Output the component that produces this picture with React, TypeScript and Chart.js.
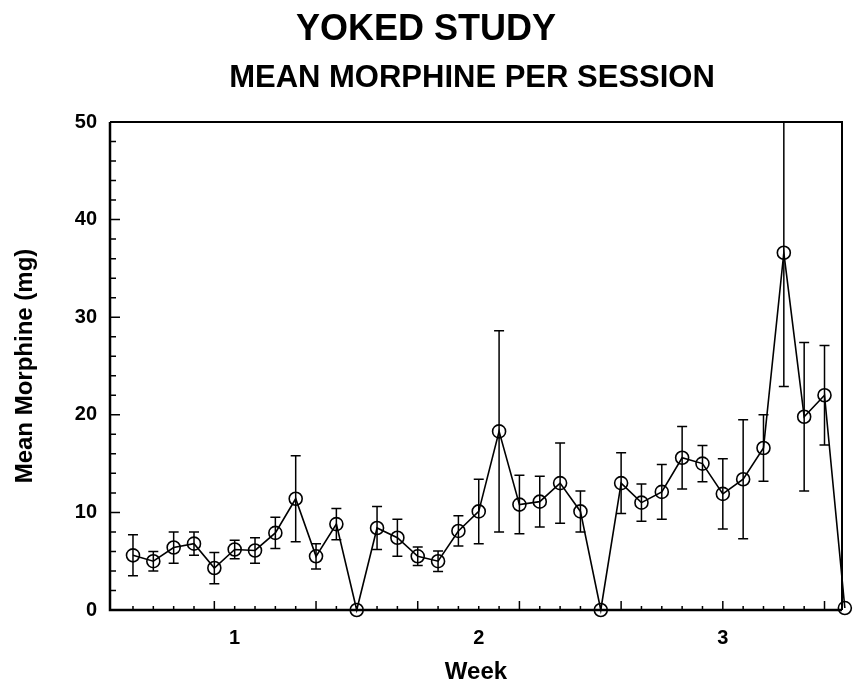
import React, { useEffect, useRef } from "react";
import { Chart, registerables } from "chart.js";

Chart.register(...registerables);

// ---- data ----
const sessions = [
  1, 2, 3, 4, 5, 6, 7, 8, 9, 10, 11, 12,
  13, 14, 15, 16, 17, 18, 19, 20, 21, 22, 23, 24,
  25, 26, 27, 28, 29, 30, 31, 32, 33, 34, 35, 36,
];
const meanMorphine = [
  5.6, 5.0, 6.4, 6.8, 4.3, 6.2, 6.1, 7.9, 11.4, 5.5, 8.8, 0,
  8.4, 7.4, 5.5, 5.0, 8.1, 10.1, 18.3, 10.8, 11.1, 13.0, 10.1, 0,
  13.0, 11.0, 12.1, 15.6, 15.0, 11.9, 13.4, 16.6, 36.6, 19.8, 22.0, 0.2,
];
const semMorphine = [
  2.1, 1.0, 1.6, 1.2, 1.6, 0.95, 1.3, 1.6, 4.4, 1.3, 1.6, 0,
  2.2, 1.9, 0.95, 1.05, 1.55, 3.3, 10.3, 3.0, 2.6, 4.1, 2.1, 0,
  3.1, 1.9, 2.8, 3.2, 1.85, 3.6, 6.1, 3.4, 13.7, 7.6, 5.1, 0,
];
const weekTickValues = [6, 18, 30];
const weekTickLabels = ["1", "2", "3"];
const yTickValues = [0, 10, 20, 30, 40, 50];
const titleText = "YOKED STUDY";
const subtitleText = "MEAN MORPHINE PER SESSION";
const xTitle = "Week";
const yTitle = "Mean Morphine (mg)";

const FONT = "'Liberation Sans', Arial, Helvetica, sans-serif";

const errorBarPlugin = {
  id: "errorBars",
  beforeDatasetsDraw(chart: any) {
    const { ctx, chartArea, scales } = chart;
    const x = scales.x;
    const y = scales.y;
    ctx.save();
    ctx.beginPath();
    ctx.rect(chartArea.left, chartArea.top - 1, chartArea.right - chartArea.left, chartArea.bottom - chartArea.top + 1);
    ctx.clip();
    ctx.strokeStyle = "#000";
    ctx.lineWidth = 1.5;
    sessions.forEach((s, i) => {
      const e = semMorphine[i];
      if (!e) return;
      const px = x.getPixelForValue(s);
      const top = y.getPixelForValue(meanMorphine[i] + e);
      const bot = y.getPixelForValue(meanMorphine[i] - e);
      ctx.beginPath();
      ctx.moveTo(px, top);
      ctx.lineTo(px, bot);
      ctx.moveTo(px - 5, top);
      ctx.lineTo(px + 5, top);
      ctx.moveTo(px - 5, bot);
      ctx.lineTo(px + 5, bot);
      ctx.stroke();
    });
    ctx.restore();
  },
};

const framePlugin = {
  id: "frame",
  afterDraw(chart: any) {
    const { ctx, chartArea, scales } = chart;
    const x = scales.x;
    const y = scales.y;
    const { left, right, top, bottom } = chartArea;
    ctx.save();
    ctx.strokeStyle = "#000";
    ctx.lineWidth = 2;
    ctx.beginPath();
    ctx.moveTo(left, top);
    ctx.lineTo(right, top);
    ctx.lineTo(right, bottom);
    ctx.stroke();
    ctx.lineWidth = 2.5;
    ctx.beginPath();
    ctx.moveTo(left, top);
    ctx.lineTo(left, bottom);
    ctx.lineTo(right, bottom);
    ctx.stroke();
    ctx.lineWidth = 1.5;
    ctx.beginPath();
    for (let v = 2; v < 50; v += 2) {
      const py = y.getPixelForValue(v);
      const len = v % 10 === 0 ? 10 : 6;
      ctx.moveTo(left, py);
      ctx.lineTo(left + len, py);
    }
    sessions.forEach((s) => {
      const px = x.getPixelForValue(s);
      if (px > right - 1) return;
      const len = s % 5 === 0 ? 9 : 4;
      ctx.moveTo(px, bottom);
      ctx.lineTo(px, bottom - len);
    });
    ctx.stroke();
    ctx.restore();
  },
};

const titlesPlugin = {
  id: "titles",
  afterDraw(chart: any) {
    const { ctx } = chart;
    ctx.save();
    ctx.fillStyle = "#000";
    ctx.textAlign = "center";
    ctx.textBaseline = "middle";
    ctx.font = `bold 36px ${FONT}`;
    ctx.fillText(titleText, 426, 30);
    ctx.font = `bold 31px ${FONT}`;
    ctx.fillText(subtitleText, 472, 78);
    ctx.restore();
  },
};

export default function App() {
  const ref = useRef<HTMLCanvasElement | null>(null);

  useEffect(() => {
    document.body.style.margin = "0";
    const canvas = ref.current;
    if (!canvas) return;
    const chart = new Chart(canvas, {
      type: "line",
      data: {
        datasets: [
          {
            data: sessions.map((s, i) => ({ x: s, y: meanMorphine[i] })),
            borderColor: "#000",
            borderWidth: 1.6,
            pointRadius: 6.5,
            pointBorderWidth: 1.6,
            pointBackgroundColor: "rgba(0,0,0,0)",
            pointBorderColor: "#000",
            tension: 0,
            clip: false as any,
          },
        ],
      },
      options: {
        animation: false,
        responsive: false,
        maintainAspectRatio: false,
        devicePixelRatio: 1,
        layout: { padding: { left: 0, right: 12, top: 122, bottom: 0 } },
        plugins: {
          legend: { display: false },
          tooltip: { enabled: false },
          title: { display: false },
        },
        scales: {
          x: {
            type: "linear",
            min: -0.13,
            max: 35.86,
            afterBuildTicks: (s: any) => {
              s.ticks = weekTickValues.map((v) => ({ value: v }));
            },
            ticks: {
              callback: (v: any) => {
                const i = weekTickValues.indexOf(Number(v));
                return i >= 0 ? weekTickLabels[i] : "";
              },
              color: "#000",
              font: { family: FONT, size: 20, weight: "bold" },
              padding: 16,
              maxRotation: 0,
              autoSkip: false,
            },
            grid: { display: false, drawTicks: false },
            border: { display: false },
            title: {
              display: true,
              text: xTitle,
              color: "#000",
              font: { family: FONT, size: 24, weight: "bold" },
              padding: { top: 0, bottom: 1 },
            },
            afterFit: (s: any) => {
              s.height = 78;
            },
          },
          y: {
            type: "linear",
            min: 0,
            max: 50,
            afterBuildTicks: (s: any) => {
              s.ticks = yTickValues.map((v) => ({ value: v }));
            },
            ticks: {
              color: "#000",
              font: { family: FONT, size: 20, weight: "bold" },
              padding: 13,
            },
            grid: { display: false, drawTicks: false },
            border: { display: false },
            title: {
              display: true,
              text: yTitle,
              color: "#000",
              font: { family: FONT, size: 24, weight: "bold" },
              padding: { top: 11, bottom: 0 },
            },
            afterFit: (s: any) => {
              s.width = 110;
            },
          },
        },
      } as any,
      plugins: [errorBarPlugin, framePlugin, titlesPlugin],
    });
    return () => chart.destroy();
  }, []);

  return (
    <div style={{ width: 854, height: 688, background: "#fff" }}>
      <canvas ref={ref} width={854} height={688} style={{ display: "block" }} />
    </div>
  );
}
